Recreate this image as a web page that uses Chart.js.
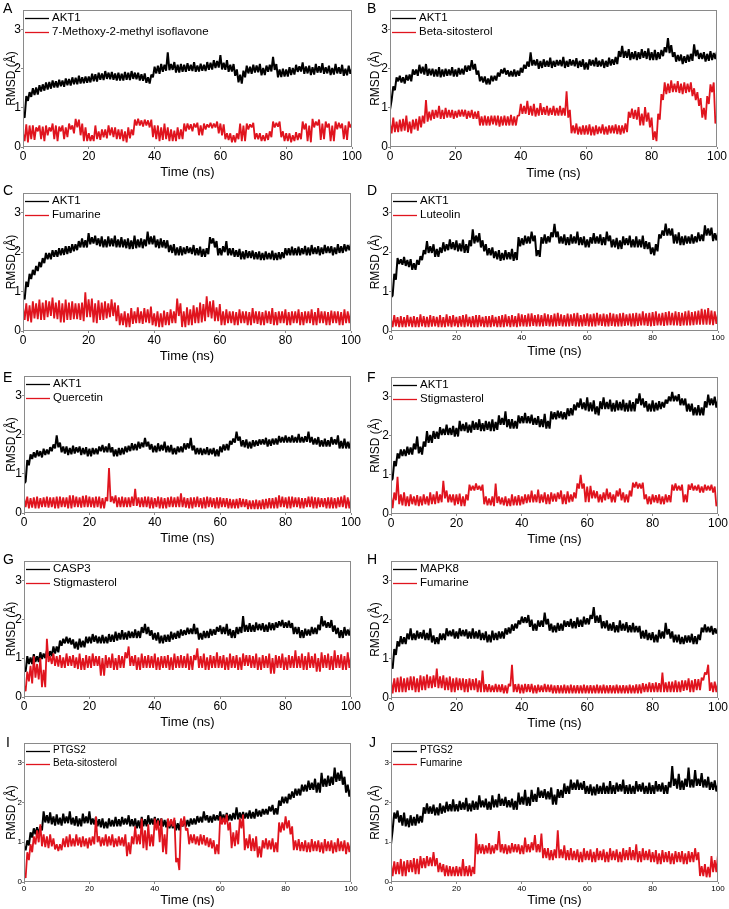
<!DOCTYPE html>
<html><head><meta charset="utf-8">
<script src="https://cdn.jsdelivr.net/npm/chart.js@4.4.1/dist/chart.umd.min.js"></script>
<style>
html,body{margin:0;padding:0;background:#fff;}
body{width:729px;height:909px;position:relative;overflow:hidden;font-family:"Liberation Sans",Arial,sans-serif;}
.panel{position:absolute;}
.letter{position:absolute;font-size:14px;line-height:14px;color:#000;font-family:"Liberation Sans",Arial,sans-serif;}
</style></head><body>
<script>
// ---------- DATA ----------
// readings at whole nanoseconds (upper edge of the noisy trace)
const timeNs = [0,1,2,3,4,5,6,7,8,9,10,11,12,13,14,15,16,17,18,19,20,21,22,23,24,25,26,27,28,29,30,31,32,33,34,35,36,37,38,39,40,41,42,43,44,45,46,47,48,49,50,51,52,53,54,55,56,57,58,59,60,61,62,63,64,65,66,67,68,69,70,71,72,73,74,75,76,77,78,79,80,81,82,83,84,85,86,87,88,89,90,91,92,93,94,95,96,97,98,99,100];
// readings at half nanoseconds (lower edge of the noisy trace)
const timeMidNs = [0.5,1.5,2.5,3.5,4.5,5.5,6.5,7.5,8.5,9.5,10.5,11.5,12.5,13.5,14.5,15.5,16.5,17.5,18.5,19.5,20.5,21.5,22.5,23.5,24.5,25.5,26.5,27.5,28.5,29.5,30.5,31.5,32.5,33.5,34.5,35.5,36.5,37.5,38.5,39.5,40.5,41.5,42.5,43.5,44.5,45.5,46.5,47.5,48.5,49.5,50.5,51.5,52.5,53.5,54.5,55.5,56.5,57.5,58.5,59.5,60.5,61.5,62.5,63.5,64.5,65.5,66.5,67.5,68.5,69.5,70.5,71.5,72.5,73.5,74.5,75.5,76.5,77.5,78.5,79.5,80.5,81.5,82.5,83.5,84.5,85.5,86.5,87.5,88.5,89.5,90.5,91.5,92.5,93.5,94.5,95.5,96.5,97.5,98.5,99.5];
const xTickValues = [0,20,40,60,80,100];
const yTickValues = [0,1,2,3];
const panelLetters = ['A','B','C','D','E','F','G','H','I','J'];
const proteinNames = ['AKT1','AKT1','AKT1','AKT1','AKT1','AKT1','CASP3','MAPK8','PTGS2','PTGS2'];
const ligandNames = ['7-Methoxy-2-methyl isoflavone','Beta-sitosterol','Fumarine','Luteolin','Quercetin','Stigmasterol','Stigmasterol','Fumarine','Beta-sitosterol','Fumarine'];

const rmsdA_protein = [0.8,1.3,1.4,1.5,1.52,1.58,1.6,1.65,1.66,1.7,
1.68,1.72,1.7,1.75,1.74,1.78,1.77,1.82,1.78,1.8,
1.8,1.87,1.86,1.9,1.88,1.94,1.9,1.92,1.88,1.9,
1.87,1.92,1.9,1.94,1.9,1.9,1.86,1.88,1.78,1.85,
2.05,2.08,2.12,2.1,2.42,2.12,2.17,2.1,2.12,2.1,
2.14,2.1,2.17,2.08,2.13,2.1,2.17,2.15,2.22,2.2,
2.35,2.15,2.22,2.1,2.12,1.98,1.85,1.95,2.08,2.05,
2.1,2.08,2.12,2.02,2.08,2.1,2.3,2.12,1.98,2.0,
1.98,2.04,2.02,2.1,2.06,2.16,2.06,2.08,2.04,2.12,
2.06,2.14,2.04,2.08,2.02,2.12,2.04,2.1,2.0,2.08,2.0];
const rmsdA_protein_mid = [0.75,1.18,1.28,1.33,1.34,1.42,1.44,1.47,1.49,1.52,
1.52,1.55,1.54,1.58,1.57,1.6,1.6,1.62,1.63,1.64,
1.65,1.68,1.67,1.72,1.71,1.74,1.73,1.72,1.7,1.7,
1.7,1.72,1.71,1.74,1.73,1.7,1.69,1.64,1.62,1.78,
1.88,1.87,1.92,1.95,1.96,1.97,1.9,1.9,1.92,1.92,
1.95,1.94,1.92,1.93,1.95,1.94,1.97,1.98,2.02,2.03,
1.98,1.97,1.92,1.93,1.82,1.65,1.62,1.78,1.88,1.87,
1.9,1.91,1.83,1.84,1.92,1.93,1.97,1.78,1.79,1.8,
1.8,1.84,1.85,1.92,1.93,1.87,1.88,1.84,1.85,1.9,
1.9,1.87,1.88,1.84,1.85,1.88,1.87,1.82,1.83,1.87];
const rmsdA_ligand = [0.35,0.58,0.55,0.55,0.5,0.55,0.52,0.55,0.5,0.6,
0.55,0.52,0.55,0.5,0.6,0.55,0.72,0.7,0.6,0.5,
0.35,0.3,0.55,0.4,0.45,0.45,0.55,0.5,0.5,0.45,
0.45,0.4,0.5,0.45,0.7,0.72,0.68,0.7,0.68,0.7,
0.55,0.55,0.5,0.6,0.5,0.45,0.42,0.5,0.45,0.6,
0.6,0.58,0.6,0.62,0.55,0.6,0.58,0.62,0.6,0.65,
0.6,0.58,0.35,0.35,0.3,0.35,0.6,0.55,0.6,0.58,
0.62,0.35,0.35,0.3,0.35,0.4,0.65,0.62,0.65,0.4,
0.35,0.35,0.3,0.38,0.35,0.65,0.6,0.55,0.72,0.65,
0.7,0.6,0.65,0.6,0.55,0.65,0.62,0.6,0.55,0.65,0.6];
const rmsdA_ligand_mid = [0.15,0.12,0.2,0.18,0.4,0.2,0.15,0.3,0.4,0.2,
0.15,0.4,0.2,0.25,0.45,0.35,0.5,0.3,0.15,0.15,
0.15,0.15,0.2,0.18,0.25,0.22,0.3,0.25,0.2,0.2,
0.15,0.12,0.22,0.3,0.55,0.55,0.52,0.55,0.5,0.25,
0.2,0.15,0.18,0.2,0.15,0.15,0.15,0.2,0.2,0.4,
0.45,0.4,0.5,0.3,0.3,0.45,0.5,0.48,0.5,0.35,
0.3,0.2,0.18,0.12,0.12,0.2,0.15,0.15,0.45,0.5,
0.2,0.2,0.15,0.15,0.18,0.25,0.5,0.52,0.25,0.15,
0.15,0.12,0.15,0.18,0.2,0.45,0.15,0.12,0.5,0.55,
0.18,0.2,0.5,0.15,0.15,0.45,0.48,0.2,0.18,0.5];

const rmsdB_protein = [0.95,1.55,1.78,1.82,1.78,1.84,1.85,1.98,1.98,2.1,
2.05,2.12,2.0,2.0,1.98,2.04,1.98,2.0,1.98,2.04,
1.98,2.02,2.0,2.08,2.08,2.22,2.12,1.95,1.8,1.8,
1.75,1.82,1.82,1.9,1.98,2.02,1.96,1.94,1.98,1.95,
2.02,2.1,2.18,2.42,2.22,2.24,2.2,2.24,2.2,2.28,
2.2,2.22,2.22,2.3,2.2,2.24,2.22,2.27,2.2,2.24,
2.16,2.24,2.22,2.28,2.2,2.24,2.2,2.28,2.24,2.3,
2.45,2.58,2.45,2.5,2.42,2.45,2.42,2.5,2.45,2.52,
2.42,2.48,2.42,2.48,2.55,2.78,2.6,2.42,2.35,2.36,
2.32,2.36,2.38,2.62,2.48,2.4,2.42,2.38,2.45,2.4,2.45];
const rmsdB_protein_mid = [1.2,1.45,1.68,1.65,1.62,1.7,1.68,1.85,1.82,1.88,
1.85,1.82,1.83,1.8,1.8,1.78,1.8,1.82,1.83,1.8,
1.8,1.85,1.85,1.92,1.95,1.98,1.85,1.68,1.65,1.6,
1.6,1.68,1.7,1.8,1.88,1.85,1.8,1.8,1.8,1.82,
1.9,2.0,2.05,2.08,2.08,2.0,2.02,2.05,2.05,2.02,
2.05,2.08,2.06,2.02,2.05,2.08,2.06,2.02,2.05,1.98,
1.98,2.08,2.06,2.05,2.06,2.02,2.05,2.08,2.1,2.12,
2.3,2.28,2.28,2.22,2.25,2.22,2.25,2.28,2.25,2.22,
2.22,2.22,2.25,2.32,2.42,2.4,2.3,2.18,2.2,2.12,
2.15,2.18,2.2,2.32,2.25,2.25,2.18,2.2,2.22,2.25];
const rmsdB_ligand = [0.6,0.75,0.65,0.7,0.72,0.8,0.65,0.7,0.72,0.78,
0.8,1.2,0.9,0.95,0.95,1.05,0.95,1.0,0.95,0.95,
0.92,0.95,0.95,0.95,0.92,0.95,0.9,0.92,0.78,0.8,
0.78,0.8,0.8,0.8,0.78,0.8,0.78,0.82,0.78,0.8,
1.1,1.05,1.18,1.05,1.1,1.0,1.12,1.02,1.05,1.0,
1.05,1.0,1.05,1.0,1.42,0.95,0.55,0.6,0.52,0.55,
0.55,0.58,0.52,0.55,0.52,0.58,0.52,0.55,0.55,0.58,
0.55,0.55,0.6,0.9,0.98,0.95,1.02,0.85,1.02,0.88,
0.75,0.4,0.85,1.35,1.65,1.62,1.7,1.62,1.68,1.62,
1.65,1.62,1.65,1.5,1.4,1.25,1.0,1.3,1.6,1.65,0.75];
const rmsdB_ligand_mid = [0.35,0.38,0.38,0.4,0.42,0.38,0.35,0.45,0.42,0.5,
0.6,0.65,0.68,0.72,0.75,0.72,0.72,0.75,0.75,0.72,
0.75,0.78,0.78,0.72,0.75,0.72,0.72,0.55,0.55,0.55,
0.55,0.58,0.55,0.52,0.55,0.55,0.55,0.55,0.55,0.8,
0.85,0.85,0.82,0.8,0.78,0.8,0.82,0.82,0.8,0.82,
0.8,0.8,0.8,0.8,0.75,0.35,0.35,0.32,0.32,0.32,
0.32,0.3,0.3,0.33,0.35,0.32,0.32,0.35,0.35,0.33,
0.32,0.35,0.38,0.75,0.72,0.7,0.55,0.55,0.65,0.5,
0.18,0.15,0.7,1.2,1.35,1.38,1.4,1.4,1.38,1.35,
1.38,1.4,1.3,1.2,1.05,0.75,0.7,1.1,1.4,0.6];

const rmsdC_protein = [0.9,1.25,1.45,1.55,1.65,1.75,1.85,1.98,1.98,2.05,
2.05,2.1,2.1,2.15,2.15,2.2,2.2,2.28,2.35,2.3,
2.48,2.38,2.42,2.35,2.4,2.32,2.4,2.35,2.42,2.32,
2.38,2.32,2.35,2.3,2.42,2.32,2.35,2.32,2.52,2.4,
2.42,2.32,2.35,2.3,2.3,2.18,2.2,2.12,2.15,2.12,
2.15,2.12,2.18,2.1,2.14,2.08,2.1,2.38,2.35,2.28,
2.1,2.15,2.28,2.1,2.1,2.05,2.08,2.02,2.05,2.02,
2.04,2.0,2.02,1.98,2.02,1.98,2.04,1.98,2.0,2.0,
2.1,2.1,2.14,2.1,2.14,2.1,2.16,2.12,2.18,2.12,
2.15,2.12,2.18,2.14,2.15,2.12,2.2,2.15,2.2,2.18,2.22];
const rmsdC_protein_mid = [0.8,1.12,1.32,1.42,1.52,1.62,1.72,1.82,1.82,1.88,
1.88,1.92,1.93,1.95,1.98,2.02,2.05,2.12,2.12,2.12,
2.2,2.22,2.18,2.15,2.12,2.12,2.15,2.15,2.12,2.12,
2.12,2.1,2.08,2.08,2.1,2.12,2.1,2.15,2.2,2.2,
2.12,2.1,2.12,2.1,2.0,1.98,1.92,1.92,1.92,1.95,
1.98,1.95,1.92,1.92,1.88,1.88,1.95,2.22,2.12,1.92,
1.92,2.0,1.92,1.92,1.88,1.88,1.82,1.82,1.85,1.85,
1.82,1.82,1.8,1.8,1.82,1.82,1.8,1.8,1.82,1.85,
1.92,1.92,1.92,1.92,1.92,1.95,1.92,1.92,1.95,1.95,
1.92,1.95,1.98,1.98,1.92,1.95,1.98,1.98,2.02,2.05];
const rmsdC_ligand = [0.6,0.7,0.65,0.75,0.7,0.8,0.72,0.78,0.75,0.85,
0.72,0.78,0.7,0.8,0.72,0.75,0.7,0.7,0.72,0.98,
0.8,0.82,0.7,0.78,0.72,0.75,0.7,0.8,0.72,0.65,
0.45,0.5,0.45,0.58,0.5,0.6,0.5,0.58,0.55,0.62,
0.45,0.5,0.45,0.52,0.48,0.55,0.5,0.82,0.7,0.5,
0.6,0.55,0.65,0.6,0.72,0.68,0.88,0.75,0.78,0.6,
0.68,0.5,0.55,0.5,0.5,0.48,0.55,0.5,0.5,0.48,
0.58,0.5,0.5,0.48,0.52,0.5,0.58,0.48,0.5,0.5,
0.55,0.48,0.5,0.5,0.55,0.48,0.5,0.5,0.55,0.48,
0.58,0.5,0.5,0.48,0.52,0.5,0.5,0.48,0.55,0.5,0.5];
const rmsdC_ligand_mid = [0.28,0.25,0.22,0.32,0.3,0.28,0.28,0.35,0.38,0.32,
0.3,0.22,0.22,0.28,0.28,0.3,0.3,0.28,0.25,0.35,
0.35,0.22,0.2,0.28,0.28,0.32,0.35,0.38,0.25,0.15,
0.15,0.1,0.1,0.18,0.2,0.2,0.18,0.22,0.2,0.15,
0.12,0.1,0.1,0.15,0.15,0.2,0.2,0.38,0.1,0.1,
0.15,0.15,0.2,0.2,0.22,0.25,0.35,0.32,0.25,0.25,
0.15,0.15,0.2,0.2,0.15,0.15,0.2,0.2,0.15,0.15,
0.2,0.18,0.15,0.15,0.2,0.18,0.15,0.15,0.2,0.2,
0.15,0.15,0.2,0.2,0.15,0.15,0.2,0.2,0.15,0.15,
0.2,0.2,0.15,0.15,0.2,0.2,0.15,0.15,0.2,0.2];

const rmsdD_protein = [0.85,1.45,1.85,1.82,1.88,1.8,1.82,1.72,1.8,1.9,
2.05,2.28,2.15,2.2,2.08,2.12,2.25,2.2,2.32,2.25,
2.3,2.22,2.32,2.2,2.3,2.58,2.42,2.48,2.3,2.2,
2.1,2.12,2.02,2.05,1.98,2.05,2.0,2.08,2.0,2.38,
2.35,2.42,2.4,2.52,2.42,2.05,2.38,2.45,2.4,2.5,
2.72,2.52,2.4,2.45,2.38,2.45,2.4,2.52,2.38,2.4,
2.32,2.38,2.48,2.4,2.45,2.38,2.52,2.42,2.32,2.36,
2.3,2.4,2.35,2.42,2.32,2.4,2.32,2.42,2.28,2.25,
2.12,2.2,2.45,2.55,2.72,2.6,2.6,2.45,2.5,2.4,
2.42,2.4,2.45,2.4,2.5,2.45,2.68,2.6,2.62,2.48,2.5];
const rmsdD_protein_mid = [0.9,1.3,1.7,1.68,1.65,1.62,1.55,1.55,1.68,1.8,
1.95,1.98,1.98,1.88,1.88,1.98,2.02,2.05,2.08,2.05,
2.02,2.02,1.98,1.98,2.15,2.22,2.25,2.12,2.02,1.92,
1.92,1.85,1.82,1.78,1.8,1.82,1.82,1.78,1.8,2.15,
2.18,2.22,2.22,2.28,1.9,1.88,2.22,2.22,2.25,2.38,
2.38,2.22,2.22,2.18,2.18,2.22,2.22,2.18,2.18,2.12,
2.12,2.22,2.22,2.22,2.18,2.18,2.28,2.12,2.12,2.08,
2.08,2.18,2.18,2.12,2.12,2.12,2.12,2.08,2.08,1.95,
1.92,2.02,2.35,2.42,2.42,2.42,2.22,2.22,2.18,2.18,
2.22,2.22,2.22,2.25,2.28,2.28,2.42,2.42,2.28,2.3];
const rmsdD_ligand = [0.3,0.4,0.35,0.38,0.35,0.4,0.36,0.38,0.35,0.42,
0.38,0.36,0.4,0.38,0.36,0.4,0.35,0.42,0.38,0.4,
0.36,0.38,0.4,0.42,0.36,0.38,0.4,0.4,0.36,0.38,
0.38,0.4,0.36,0.38,0.4,0.42,0.38,0.4,0.38,0.45,
0.42,0.4,0.44,0.45,0.4,0.42,0.4,0.45,0.42,0.4,
0.44,0.46,0.42,0.4,0.44,0.42,0.45,0.46,0.4,0.42,
0.45,0.42,0.44,0.46,0.42,0.44,0.42,0.46,0.44,0.42,
0.45,0.46,0.42,0.44,0.45,0.46,0.44,0.5,0.45,0.46,
0.48,0.5,0.44,0.46,0.48,0.5,0.46,0.5,0.48,0.46,
0.5,0.52,0.48,0.5,0.52,0.56,0.54,0.58,0.52,0.5,0.45];
const rmsdD_ligand_mid = [0.1,0.12,0.1,0.1,0.1,0.12,0.1,0.1,0.1,0.12,
0.1,0.1,0.11,0.12,0.1,0.1,0.1,0.12,0.1,0.12,
0.1,0.11,0.1,0.12,0.1,0.1,0.1,0.12,0.1,0.1,
0.1,0.12,0.1,0.1,0.1,0.12,0.1,0.11,0.1,0.12,
0.12,0.11,0.12,0.13,0.12,0.12,0.12,0.13,0.12,0.12,
0.12,0.13,0.12,0.12,0.12,0.13,0.12,0.12,0.12,0.13,
0.12,0.12,0.12,0.14,0.13,0.12,0.12,0.13,0.12,0.12,
0.12,0.13,0.14,0.12,0.12,0.13,0.14,0.14,0.13,0.12,
0.13,0.14,0.14,0.13,0.14,0.15,0.14,0.14,0.13,0.14,
0.14,0.14,0.15,0.16,0.16,0.16,0.16,0.16,0.15,0.18];

const rmsdE_protein = [0.75,1.35,1.5,1.55,1.6,1.58,1.64,1.62,1.68,1.75,
1.98,1.8,1.7,1.7,1.66,1.72,1.68,1.7,1.66,1.68,
1.64,1.66,1.65,1.7,1.74,1.7,1.78,1.68,1.62,1.66,
1.66,1.7,1.72,1.78,1.76,1.82,1.8,1.92,1.82,1.76,
1.72,1.78,1.74,1.82,1.72,1.74,1.66,1.7,1.7,1.78,
1.78,1.92,1.72,1.66,1.66,1.64,1.68,1.64,1.66,1.62,
1.7,1.75,1.76,1.84,1.9,2.08,1.95,1.86,1.88,1.82,
1.86,1.85,1.88,1.88,1.92,1.88,1.9,1.9,1.97,1.94,
1.98,1.94,1.98,1.94,2.02,1.94,1.96,2.08,1.94,1.9,
1.94,1.86,1.9,1.86,1.94,1.88,1.98,1.84,1.9,1.82,1.86];
const rmsdE_protein_mid = [0.8,1.22,1.38,1.42,1.45,1.42,1.48,1.5,1.58,1.65,
1.68,1.55,1.52,1.48,1.5,1.52,1.55,1.48,1.5,1.45,
1.45,1.5,1.5,1.58,1.55,1.55,1.55,1.45,1.45,1.48,
1.5,1.55,1.58,1.6,1.6,1.65,1.68,1.7,1.62,1.55,
1.55,1.58,1.6,1.55,1.55,1.5,1.5,1.55,1.55,1.62,
1.65,1.6,1.5,1.5,1.48,1.5,1.48,1.5,1.45,1.45,
1.55,1.6,1.6,1.75,1.8,1.85,1.7,1.68,1.65,1.65,
1.7,1.72,1.75,1.75,1.7,1.72,1.75,1.75,1.8,1.8,
1.8,1.8,1.8,1.8,1.8,1.8,1.82,1.8,1.75,1.75,
1.7,1.7,1.7,1.7,1.75,1.75,1.65,1.65,1.65,1.65];
const rmsdE_ligand = [0.4,0.42,0.38,0.4,0.42,0.38,0.4,0.42,0.4,0.4,
0.42,0.42,0.4,0.4,0.45,0.45,0.42,0.4,0.44,0.45,
0.42,0.4,0.42,0.42,0.38,0.4,1.15,0.42,0.45,0.4,
0.42,0.4,0.4,0.42,0.62,0.4,0.4,0.42,0.42,0.4,
0.38,0.42,0.4,0.38,0.4,0.42,0.4,0.42,0.5,0.4,
0.38,0.4,0.4,0.42,0.38,0.4,0.42,0.4,0.38,0.4,
0.4,0.38,0.38,0.36,0.35,0.36,0.38,0.36,0.35,0.32,
0.32,0.34,0.32,0.35,0.36,0.38,0.38,0.4,0.45,0.42,
0.4,0.42,0.42,0.4,0.4,0.38,0.38,0.42,0.42,0.4,
0.4,0.38,0.38,0.4,0.4,0.38,0.4,0.42,0.45,0.4,0.4];
const rmsdE_ligand_mid = [0.15,0.12,0.14,0.12,0.12,0.15,0.15,0.14,0.15,0.12,
0.12,0.15,0.15,0.12,0.12,0.15,0.15,0.14,0.15,0.15,
0.15,0.14,0.15,0.12,0.12,0.3,0.28,0.25,0.15,0.15,
0.15,0.15,0.15,0.18,0.18,0.15,0.15,0.15,0.12,0.12,
0.15,0.12,0.12,0.12,0.15,0.15,0.15,0.15,0.15,0.14,
0.12,0.12,0.15,0.15,0.12,0.12,0.15,0.15,0.12,0.12,
0.15,0.15,0.12,0.12,0.12,0.12,0.15,0.15,0.1,0.1,
0.1,0.1,0.1,0.1,0.12,0.12,0.12,0.12,0.15,0.15,
0.12,0.12,0.15,0.15,0.12,0.12,0.15,0.15,0.12,0.12,
0.15,0.15,0.12,0.12,0.12,0.12,0.15,0.15,0.12,0.12];

const rmsdF_protein = [0.85,1.35,1.55,1.65,1.65,1.72,1.7,1.8,1.98,1.72,
1.85,2.12,2.02,2.12,2.1,2.22,2.18,2.28,2.2,2.25,
2.2,2.38,2.3,2.34,2.28,2.38,2.34,2.42,2.32,2.38,
2.36,2.42,2.35,2.52,2.45,2.62,2.42,2.42,2.38,2.52,
2.5,2.58,2.5,2.54,2.45,2.5,2.42,2.56,2.38,2.62,
2.6,2.64,2.62,2.6,2.7,2.7,2.8,2.85,2.95,2.85,
2.98,2.85,2.9,2.75,2.88,2.98,2.86,2.92,2.84,2.9,
2.86,2.92,2.84,2.9,2.86,2.95,3.08,2.95,2.88,2.82,
2.9,2.84,2.88,2.86,2.92,3.0,3.12,3.02,3.06,2.95,
2.95,2.82,2.82,2.72,2.78,2.72,2.88,3.05,2.95,3.0,2.9];
const rmsdF_protein_mid = [0.9,1.22,1.42,1.48,1.48,1.52,1.52,1.65,1.55,1.52,
1.72,1.82,1.82,1.92,1.92,2.02,2.02,2.02,2.02,1.98,
1.98,2.12,2.12,2.08,2.08,2.15,2.15,2.12,2.12,2.15,
2.12,2.12,2.15,2.28,2.28,2.22,2.18,2.18,2.18,2.32,
2.32,2.32,2.32,2.28,2.28,2.22,2.22,2.18,2.18,2.42,
2.42,2.45,2.42,2.42,2.5,2.52,2.65,2.72,2.68,2.65,
2.62,2.62,2.55,2.52,2.68,2.68,2.68,2.62,2.62,2.65,
2.65,2.62,2.62,2.62,2.62,2.82,2.78,2.72,2.62,2.62,
2.62,2.65,2.68,2.72,2.82,2.88,2.88,2.88,2.78,2.78,
2.62,2.62,2.52,2.52,2.52,2.52,2.72,2.78,2.78,2.72];
const rmsdF_ligand = [0.45,0.55,0.95,0.5,0.55,0.45,0.5,0.45,0.48,0.45,
0.5,0.45,0.55,0.5,0.58,0.5,0.85,0.6,0.5,0.5,
0.5,0.52,0.45,0.5,0.75,0.72,0.78,0.72,0.75,0.45,
0.4,0.45,0.78,0.45,0.42,0.45,0.4,0.5,0.45,0.48,
0.45,0.5,0.5,0.6,0.5,0.62,0.5,0.55,0.5,0.55,
0.52,0.55,0.6,0.5,0.58,0.5,0.55,0.78,1.0,0.78,
0.7,0.72,0.6,0.58,0.5,0.55,0.65,0.55,0.5,0.6,
0.65,0.55,0.5,0.6,0.8,0.82,0.78,0.8,0.5,0.45,
0.5,0.48,0.5,0.45,0.5,0.48,0.75,0.78,0.72,0.75,
0.5,0.75,0.78,0.72,0.75,0.7,0.75,0.72,0.75,0.7,0.3];
const rmsdF_ligand_mid = [0.15,0.35,0.25,0.22,0.2,0.2,0.25,0.22,0.2,0.22,
0.25,0.22,0.25,0.25,0.28,0.3,0.4,0.3,0.3,0.22,
0.25,0.2,0.2,0.35,0.6,0.6,0.62,0.6,0.25,0.22,
0.22,0.2,0.28,0.25,0.22,0.2,0.2,0.22,0.22,0.22,
0.25,0.28,0.3,0.3,0.3,0.28,0.3,0.25,0.25,0.32,
0.32,0.38,0.25,0.25,0.3,0.32,0.4,0.65,0.65,0.3,
0.3,0.4,0.4,0.3,0.3,0.35,0.38,0.3,0.3,0.45,
0.35,0.3,0.3,0.45,0.68,0.65,0.65,0.38,0.25,0.25,
0.3,0.28,0.25,0.25,0.3,0.3,0.6,0.6,0.6,0.3,
0.3,0.62,0.6,0.6,0.55,0.55,0.6,0.6,0.55,0.2];

const rmsdG_protein = [0.75,1.05,1.02,1.1,1.05,1.15,1.12,1.2,1.18,1.3,
1.3,1.45,1.5,1.55,1.52,1.48,1.42,1.5,1.45,1.55,
1.55,1.62,1.58,1.55,1.6,1.55,1.62,1.6,1.68,1.65,
1.72,1.66,1.7,1.68,1.74,1.7,1.8,1.88,1.8,1.72,
1.65,1.66,1.58,1.6,1.6,1.68,1.65,1.7,1.74,1.72,
1.78,1.76,1.88,1.78,1.65,1.7,1.7,1.75,1.74,1.8,
1.84,1.8,1.88,1.75,1.72,1.8,1.8,2.08,1.85,1.9,
1.85,1.92,1.88,1.9,1.86,1.92,1.9,1.92,1.95,1.98,
1.92,1.96,1.9,1.8,1.8,1.72,1.76,1.74,1.8,1.78,
1.86,2.08,1.96,1.92,1.98,1.84,1.78,1.72,1.8,1.74,1.8];
const rmsdG_protein_mid = [0.65,0.85,0.85,0.9,0.9,0.98,1.0,1.02,1.05,1.12,
1.15,1.32,1.38,1.38,1.35,1.25,1.22,1.28,1.28,1.38,
1.38,1.42,1.38,1.38,1.38,1.38,1.42,1.42,1.45,1.48,
1.48,1.48,1.52,1.52,1.52,1.52,1.65,1.62,1.58,1.48,
1.45,1.38,1.38,1.42,1.42,1.48,1.5,1.52,1.58,1.6,
1.62,1.62,1.62,1.48,1.48,1.52,1.52,1.58,1.6,1.68,
1.62,1.62,1.58,1.52,1.52,1.62,1.65,1.68,1.68,1.68,
1.68,1.72,1.72,1.68,1.68,1.72,1.72,1.78,1.82,1.78,
1.78,1.78,1.62,1.62,1.52,1.52,1.58,1.58,1.62,1.62,
1.72,1.82,1.78,1.78,1.68,1.62,1.52,1.52,1.58,1.58];
const rmsdG_ligand = [0.3,0.65,0.8,1.05,0.85,1.0,0.7,1.5,1.05,1.12,
1.05,1.08,1.02,1.12,1.05,1.08,1.02,1.12,1.0,1.08,
1.05,1.12,1.05,1.05,1.0,1.08,1.02,1.12,1.0,1.08,
1.05,1.15,1.3,1.05,1.08,1.02,1.12,1.05,1.08,1.05,
1.12,1.02,1.05,1.05,1.08,1.02,1.12,1.05,1.08,1.05,
1.12,1.05,1.08,1.25,1.05,1.12,1.02,1.08,1.05,1.15,
1.05,1.08,1.02,1.12,1.05,1.08,1.02,1.12,1.08,1.08,
1.05,1.12,1.02,1.08,1.05,1.12,1.0,1.08,1.05,1.12,
1.02,1.08,1.05,1.2,1.05,1.12,1.05,1.15,1.05,1.12,
1.0,1.15,1.08,1.12,1.05,1.2,1.08,1.1,1.05,1.15,1.05];
const rmsdG_ligand_mid = [0.15,0.4,0.35,0.5,0.45,0.25,0.25,0.9,0.85,0.8,
0.78,0.75,0.75,0.8,0.8,0.75,0.72,0.7,0.7,0.75,
0.75,0.8,0.8,0.55,0.55,0.75,0.75,0.7,0.7,0.75,
0.75,1.0,0.8,0.8,0.7,0.7,0.75,0.75,0.75,0.75,
0.7,0.7,0.75,0.75,0.7,0.7,0.75,0.75,0.75,0.75,
0.7,0.7,0.95,0.75,0.75,0.7,0.7,0.75,0.75,0.75,
0.75,0.7,0.7,0.75,0.75,0.7,0.7,0.8,0.8,0.75,
0.75,0.7,0.7,0.75,0.75,0.6,0.6,0.75,0.75,0.7,
0.7,0.75,0.75,0.75,0.75,0.7,0.7,0.75,0.75,0.65,
0.65,0.75,0.75,0.7,0.7,0.75,0.75,0.7,0.7,0.75];

const rmsdH_protein = [0.85,1.25,1.45,1.58,1.55,1.65,1.78,1.65,1.72,1.68,
1.74,1.66,1.78,1.6,1.55,1.65,1.65,1.78,1.72,1.75,
1.7,1.78,1.74,1.75,1.7,1.78,1.7,1.74,1.66,1.7,
1.62,1.72,1.66,1.7,1.7,1.78,1.8,1.88,1.9,1.98,
2.08,2.06,2.12,2.0,1.9,1.98,1.98,2.18,2.02,1.9,
1.85,1.92,1.9,1.98,1.96,2.02,1.96,2.06,2.0,2.08,
2.04,2.12,2.32,2.1,2.12,1.96,1.98,1.9,1.94,1.86,
1.98,1.9,1.94,1.86,1.92,1.84,1.84,1.72,1.74,1.66,
1.68,1.62,1.74,1.7,1.92,1.76,1.7,1.62,1.62,1.56,
1.6,1.6,1.64,1.58,1.62,1.8,1.88,1.82,1.84,1.78,1.8];
const rmsdH_protein_mid = [0.75,1.1,1.32,1.38,1.38,1.5,1.48,1.48,1.52,1.52,
1.48,1.48,1.42,1.38,1.38,1.48,1.48,1.58,1.58,1.52,
1.52,1.58,1.58,1.52,1.52,1.52,1.52,1.48,1.48,1.42,
1.42,1.48,1.48,1.52,1.52,1.62,1.65,1.72,1.78,1.88,
1.92,1.92,1.82,1.72,1.72,1.82,1.82,1.88,1.72,1.68,
1.68,1.72,1.72,1.82,1.82,1.78,1.78,1.82,1.82,1.88,
1.88,2.02,1.92,1.92,1.78,1.78,1.72,1.72,1.68,1.68,
1.72,1.72,1.68,1.68,1.68,1.68,1.52,1.52,1.48,1.48,
1.42,1.42,1.52,1.52,1.62,1.52,1.42,1.42,1.38,1.38,
1.42,1.42,1.38,1.38,1.48,1.68,1.68,1.68,1.62,1.65];
const rmsdH_ligand = [0.45,0.5,0.52,0.55,0.5,0.52,0.55,0.55,0.5,0.58,
0.55,0.6,0.55,0.58,0.75,0.55,0.58,0.52,0.55,0.5,
0.52,0.5,0.5,0.48,0.5,0.48,0.5,0.45,0.7,0.35,
0.35,0.32,0.36,0.34,0.35,0.32,0.36,0.85,0.35,0.36,
0.34,0.36,0.35,0.36,0.32,0.34,0.32,0.36,0.34,0.34,
0.32,0.33,0.32,0.34,0.32,0.34,0.32,0.33,0.32,0.34,
0.32,0.33,0.32,0.34,0.32,0.34,0.32,0.33,0.32,0.34,
0.32,0.33,0.32,0.34,0.32,0.35,0.35,0.38,0.36,0.4,
0.38,0.4,0.38,0.65,0.4,0.42,0.42,0.45,0.42,0.45,
0.45,0.5,0.45,0.48,0.48,0.52,0.65,0.85,0.4,0.42,0.4];
const rmsdH_ligand_mid = [0.12,0.15,0.15,0.15,0.15,0.2,0.2,0.15,0.15,0.2,
0.2,0.25,0.25,0.28,0.25,0.25,0.2,0.2,0.15,0.15,
0.2,0.2,0.15,0.15,0.2,0.2,0.15,0.15,0.15,0.15,
0.15,0.15,0.15,0.15,0.12,0.12,0.3,0.15,0.15,0.12,
0.12,0.15,0.15,0.12,0.12,0.15,0.15,0.15,0.15,0.12,
0.12,0.12,0.12,0.12,0.12,0.12,0.12,0.12,0.12,0.12,
0.12,0.12,0.12,0.12,0.12,0.12,0.12,0.12,0.12,0.12,
0.12,0.12,0.12,0.12,0.12,0.12,0.12,0.15,0.15,0.15,
0.15,0.15,0.15,0.15,0.15,0.15,0.15,0.15,0.15,0.18,
0.2,0.15,0.15,0.2,0.2,0.45,0.6,0.18,0.15,0.15];

const rmsdI_protein = [0.9,1.05,1.25,1.35,1.38,1.4,1.78,1.68,1.75,1.65,
1.7,1.62,1.72,1.65,1.78,1.62,1.66,1.6,1.72,1.65,
1.78,1.6,1.64,1.58,1.6,1.52,1.6,1.56,1.64,1.58,
1.64,1.6,1.68,1.58,1.6,1.55,1.64,1.58,1.68,1.6,
1.64,1.6,1.6,1.56,1.58,1.52,1.56,1.48,1.55,1.56,
1.56,1.6,1.6,1.66,1.64,1.78,1.68,1.66,1.7,1.68,
1.78,1.7,1.74,1.7,1.74,1.88,1.75,1.76,1.74,1.8,
1.76,1.84,1.8,1.84,1.84,1.9,1.94,1.86,2.05,2.15,
2.15,2.22,2.28,2.35,2.35,2.45,2.45,2.55,2.5,2.6,
2.5,2.75,2.6,2.68,2.65,2.88,2.75,2.8,2.65,2.45,2.35];
const rmsdI_protein_mid = [0.8,0.92,1.12,1.2,1.2,1.3,1.5,1.48,1.45,1.42,
1.45,1.42,1.48,1.48,1.45,1.42,1.4,1.4,1.48,1.48,
1.45,1.45,1.4,1.38,1.35,1.35,1.4,1.4,1.4,1.4,
1.45,1.45,1.4,1.4,1.35,1.35,1.4,1.4,1.45,1.45,
1.45,1.42,1.4,1.38,1.35,1.35,1.3,1.3,1.4,1.4,
1.4,1.45,1.45,1.5,1.5,1.55,1.5,1.5,1.55,1.55,
1.55,1.55,1.55,1.55,1.58,1.58,1.6,1.6,1.6,1.6,
1.6,1.65,1.65,1.7,1.7,1.78,1.7,1.7,1.92,1.98,
1.98,2.08,2.12,2.18,2.18,2.28,2.28,2.32,2.32,2.25,
2.25,2.4,2.4,2.42,2.45,2.52,2.55,2.45,2.25,2.15];
const rmsdI_ligand = [0.2,0.75,0.95,1.15,1.3,1.45,1.2,1.15,1.2,1.1,
0.95,0.95,1.1,1.15,1.2,1.1,1.2,1.12,1.15,1.1,
1.12,1.15,1.65,1.15,1.12,1.2,1.15,1.2,1.1,1.15,
1.12,1.2,1.0,1.15,1.4,1.2,1.6,1.3,1.45,1.2,
1.6,1.55,1.6,1.2,1.6,1.58,1.62,0.6,1.6,1.65,
1.35,1.2,1.2,1.15,1.2,1.18,1.12,1.1,1.05,0.95,
1.65,1.62,1.7,1.5,1.25,1.3,1.6,1.7,1.1,1.2,
1.1,1.15,0.9,1.05,1.1,1.05,1.1,1.0,1.5,1.5,
1.65,1.55,1.4,1.05,1.08,1.0,1.05,1.0,1.08,1.02,
1.05,1.0,1.08,1.02,1.05,1.0,1.1,1.02,1.05,1.0,1.0];
const rmsdI_ligand_mid = [0.1,0.55,0.75,0.95,1.0,0.9,0.88,0.85,0.9,0.82,
0.78,0.8,0.88,0.88,0.9,0.9,0.92,0.88,0.9,0.85,
0.92,0.95,1.0,0.9,0.92,0.9,0.92,0.88,0.9,0.92,
0.9,0.65,0.7,0.95,0.95,0.95,0.85,0.8,0.9,0.9,
1.3,1.0,0.75,0.7,1.4,1.4,0.5,0.3,1.4,1.3,
0.95,0.98,0.95,0.92,0.95,0.92,0.88,0.85,0.7,0.7,
1.45,1.45,1.3,0.85,0.9,0.95,1.35,0.8,0.85,0.78,
0.78,0.62,0.62,0.85,0.82,0.82,0.75,0.75,1.25,1.3,
1.35,1.2,0.8,0.8,0.78,0.78,0.75,0.75,0.78,0.78,
0.75,0.72,0.78,0.78,0.72,0.75,0.78,0.78,0.7,0.75];

const rmsdJ_protein = [0.95,1.75,1.8,1.68,1.75,1.6,1.68,1.64,1.7,1.66,
1.88,1.98,1.9,1.95,1.88,1.98,1.92,2.02,1.96,2.08,
1.96,2.04,2.0,2.12,1.98,2.05,2.02,2.18,2.05,2.1,
2.02,2.18,2.08,2.22,2.1,2.14,2.06,2.1,2.04,2.25,
2.15,2.32,2.14,2.32,2.22,2.38,2.3,2.34,2.28,2.38,
2.2,2.34,2.32,2.48,2.42,2.58,2.5,2.58,2.5,2.54,
2.42,2.46,2.4,2.46,2.42,2.5,2.42,2.54,2.44,2.5,
2.46,2.58,2.44,2.46,2.42,2.54,2.46,2.5,2.42,2.5,
2.44,2.54,2.46,2.5,2.44,2.52,2.92,2.6,2.72,2.55,
2.6,2.88,2.58,2.82,2.6,2.74,2.58,2.65,2.52,2.56,2.45];
const rmsdJ_protein_mid = [1.3,1.6,1.5,1.42,1.4,1.38,1.42,1.42,1.48,1.5,
1.72,1.72,1.72,1.68,1.68,1.72,1.75,1.78,1.78,1.78,
1.78,1.82,1.82,1.78,1.78,1.82,1.82,1.88,1.88,1.82,
1.82,1.88,1.88,1.92,1.92,1.88,1.88,1.82,1.82,1.95,
1.95,1.92,1.92,2.02,2.02,2.12,2.12,2.08,2.08,1.95,
1.95,2.12,2.12,2.22,2.22,2.32,2.32,2.32,2.32,2.22,
2.22,2.18,2.18,2.22,2.22,2.22,2.22,2.22,2.22,2.28,
2.28,2.22,2.22,2.22,2.22,2.28,2.28,2.22,2.22,2.22,
2.22,2.28,2.28,2.22,2.22,2.38,2.42,2.35,2.32,2.32,
2.4,2.38,2.38,2.42,2.42,2.38,2.38,2.32,2.32,2.28];
const rmsdJ_ligand = [0.45,0.52,0.5,0.58,0.52,0.55,0.55,0.6,0.58,0.65,
0.6,0.65,0.62,0.75,0.6,0.48,0.45,0.42,0.4,0.38,
0.4,0.38,0.58,0.4,0.42,0.38,1.22,0.95,0.95,0.92,
0.98,0.92,0.95,1.28,0.95,0.95,0.92,0.98,0.95,0.95,
0.92,1.12,0.95,1.0,1.18,0.95,1.22,0.85,0.85,0.8,
0.82,1.3,0.82,0.92,0.8,0.85,0.78,0.82,0.76,0.85,
0.78,0.82,0.76,0.85,0.78,0.82,0.76,0.85,0.78,0.82,
0.76,0.85,0.8,0.88,0.8,0.95,0.78,0.85,0.78,0.82,
0.75,0.8,0.72,0.8,0.75,0.78,0.72,0.78,0.75,0.78,
0.72,0.78,0.75,0.85,0.75,0.4,0.45,0.38,0.65,0.55,0.7];
const rmsdJ_ligand_mid = [0.15,0.2,0.2,0.15,0.15,0.25,0.25,0.2,0.2,0.35,
0.35,0.4,0.4,0.4,0.25,0.25,0.15,0.15,0.15,0.15,
0.15,0.15,0.15,0.15,0.15,0.2,0.7,0.72,0.7,0.72,
0.7,0.72,0.8,0.75,0.72,0.7,0.72,0.75,0.75,0.7,
0.7,0.75,0.75,0.8,0.75,0.75,0.6,0.6,0.55,0.55,
0.6,0.6,0.6,0.55,0.55,0.55,0.55,0.5,0.5,0.55,
0.55,0.5,0.5,0.55,0.55,0.5,0.5,0.55,0.55,0.5,
0.5,0.55,0.55,0.55,0.55,0.5,0.5,0.55,0.55,0.5,
0.5,0.45,0.45,0.5,0.5,0.45,0.45,0.5,0.5,0.45,
0.45,0.5,0.5,0.55,0.15,0.15,0.12,0.12,0.25,0.25];

// ---------- LAYOUT (pixels) ----------
const FONT = '"Liberation Sans", Arial, sans-serif';
const RED = '#e0141e';
const panelLayout = [
  {cl:0,   pl:23,  pr:352, pt:10,  pb:147, xh:33, xf:12, yf:12, lf:11.5, lx:3,   ly:1},
  {cl:364, pl:390, pr:717, pt:10,  pb:147, xh:34, xf:12, yf:12, lf:11.5, lx:367, ly:1},
  {cl:0,   pl:23,  pr:351, pt:193, pb:331, xh:33, xf:12, yf:12, lf:11.5, lx:3,   ly:183},
  {cl:364, pl:391, pr:718, pt:193, pb:331, xh:28, xf:8,  yf:12, lf:11.5, lx:367, ly:183},
  {cl:0,   pl:24,  pr:351, pt:376, pb:513, xh:33, xf:12, yf:12, lf:11.5, lx:3,   ly:370},
  {cl:364, pl:391, pr:718, pt:377, pb:514, xh:33, xf:12, yf:12, lf:11.5, lx:367, ly:370},
  {cl:0,   pl:24,  pr:351, pt:561, pb:697, xh:33, xf:12, yf:12, lf:11.5, lx:3,   ly:552},
  {cl:364, pl:391, pr:718, pt:561, pb:698, xh:33, xf:12, yf:12, lf:11.5, lx:367, ly:552},
  {cl:0,   pl:24,  pr:351, pt:743, pb:882, xh:26, xf:8,  yf:8,  lf:10,   lx:6,   ly:735},
  {cl:364, pl:391, pr:718, pt:743, pb:882, xh:26, xf:8,  yf:8,  lf:10,   lx:369, ly:735}
];
const seriesByPanel = [
  [rmsdA_protein, rmsdA_protein_mid, rmsdA_ligand, rmsdA_ligand_mid],
  [rmsdB_protein, rmsdB_protein_mid, rmsdB_ligand, rmsdB_ligand_mid],
  [rmsdC_protein, rmsdC_protein_mid, rmsdC_ligand, rmsdC_ligand_mid],
  [rmsdD_protein, rmsdD_protein_mid, rmsdD_ligand, rmsdD_ligand_mid],
  [rmsdE_protein, rmsdE_protein_mid, rmsdE_ligand, rmsdE_ligand_mid],
  [rmsdF_protein, rmsdF_protein_mid, rmsdF_ligand, rmsdF_ligand_mid],
  [rmsdG_protein, rmsdG_protein_mid, rmsdG_ligand, rmsdG_ligand_mid],
  [rmsdH_protein, rmsdH_protein_mid, rmsdH_ligand, rmsdH_ligand_mid],
  [rmsdI_protein, rmsdI_protein_mid, rmsdI_ligand, rmsdI_ligand_mid],
  [rmsdJ_protein, rmsdJ_protein_mid, rmsdJ_ligand, rmsdJ_ligand_mid]
];

// merge whole-ns and half-ns readings in time order
function toPoints(whole, half) {
  const pts = [];
  for (let k = 0; k < timeNs.length; k++) {
    pts.push({x: timeNs[k], y: whole[k]});
    if (k < timeMidNs.length) pts.push({x: timeMidNs[k], y: half[k]});
  }
  return pts;
}

const decorPlugin = {
  id: 'decor',
  afterDatasetsDraw(chart, args, opts) {
    const {ctx, chartArea: a} = chart;
    ctx.save();
    ctx.font = opts.lf + 'px ' + FONT;
    ctx.textBaseline = 'middle';
    ctx.textAlign = 'left';
    const rows = [[opts.protein, '#000000', a.top + 7.5], [opts.ligand, RED, a.top + 7.5 + opts.gap]];
    rows.forEach(([txt, col, y]) => {
      ctx.strokeStyle = col; ctx.lineWidth = 1.3;
      ctx.beginPath(); ctx.moveTo(a.left + 2, Math.round(y) + 0.5); ctx.lineTo(a.left + 26, Math.round(y) + 0.5); ctx.stroke();
      ctx.fillStyle = '#000';
      ctx.fillText(txt, a.left + 29, y);
    });
    ctx.restore();
  },
  afterDraw(chart) {
    const {ctx, chartArea: a} = chart;
    ctx.save();
    ctx.strokeStyle = '#8a8a8a'; ctx.lineWidth = 1;
    ctx.strokeRect(Math.round(a.left) + 0.5, Math.round(a.top) + 0.5, Math.round(a.right - a.left) - 1, Math.round(a.bottom - a.top) - 1);
    ctx.restore();
  }
};

panelLayout.forEach((L, i) => {
  const w = L.pr + 12 - L.cl;
  const h = (L.pb - L.pt) + 8 + L.xh;
  const div = document.createElement('div');
  div.className = 'panel';
  div.style.left = L.cl + 'px';
  div.style.top = (L.pt - 8) + 'px';
  div.style.width = w + 'px';
  div.style.height = h + 'px';
  const cv = document.createElement('canvas');
  cv.width = w; cv.height = h;
  cv.style.width = w + 'px'; cv.style.height = h + 'px';
  div.appendChild(cv);
  document.body.appendChild(div);

  const letter = document.createElement('div');
  letter.className = 'letter';
  letter.style.left = L.lx + 'px';
  letter.style.top = L.ly + 'px';
  letter.textContent = panelLetters[i];
  document.body.appendChild(letter);

  const [prot, protMid, lig, ligMid] = seriesByPanel[i];

  new Chart(cv, {
    type: 'line',
    data: {
      datasets: [
        {label: ligandNames[i], data: toPoints(lig, ligMid), borderColor: RED, borderWidth: 1.8, borderJoinStyle: 'bevel', pointRadius: 0, tension: 0, order: 0},
        {label: proteinNames[i], data: toPoints(prot, protMid), borderColor: '#000', borderWidth: 2, borderJoinStyle: 'bevel', pointRadius: 0, tension: 0, order: 1}
      ]
    },
    plugins: [decorPlugin],
    options: {
      responsive: false,
      animation: false,
      devicePixelRatio: 1,
      layout: {padding: {top: 8, right: 12, left: 0, bottom: 0}},
      plugins: {
        legend: {display: false},
        tooltip: {enabled: false},
        decor: {protein: proteinNames[i], ligand: ligandNames[i], lf: L.lf, gap: L.lf >= 11 ? 14.5 : 13}
      },
      scales: {
        x: {
          type: 'linear', min: 0, max: 100,
          afterBuildTicks: s => { s.ticks = xTickValues.map(v => ({value: v})); },
          ticks: {font: {family: FONT, size: L.xf}, color: '#000', padding: 0, maxRotation: 0, autoSkip: false},
          grid: {display: true, drawOnChartArea: false, drawTicks: true, tickLength: 2, color: '#8a8a8a'},
          border: {display: false},
          title: {display: true, text: 'Time (ns)', font: {family: FONT, size: 13}, color: '#000', padding: 0},
          afterFit: s => { s.height = L.xh; }
        },
        y: {
          type: 'linear', min: 0, max: 3.5,
          afterBuildTicks: s => { s.ticks = yTickValues.map(v => ({value: v})); },
          ticks: {font: {family: FONT, size: L.yf}, color: '#000', padding: 0},
          grid: {display: true, drawOnChartArea: false, drawTicks: true, tickLength: 2, color: '#8a8a8a'},
          border: {display: false},
          title: {display: true, text: 'RMSD (Å)', font: {family: FONT, size: 12}, color: '#000', padding: {top: 4, bottom: 0}},
          afterFit: s => { s.width = L.pl - L.cl; }
        }
      }
    }
  });
});
</script>
</body></html>
